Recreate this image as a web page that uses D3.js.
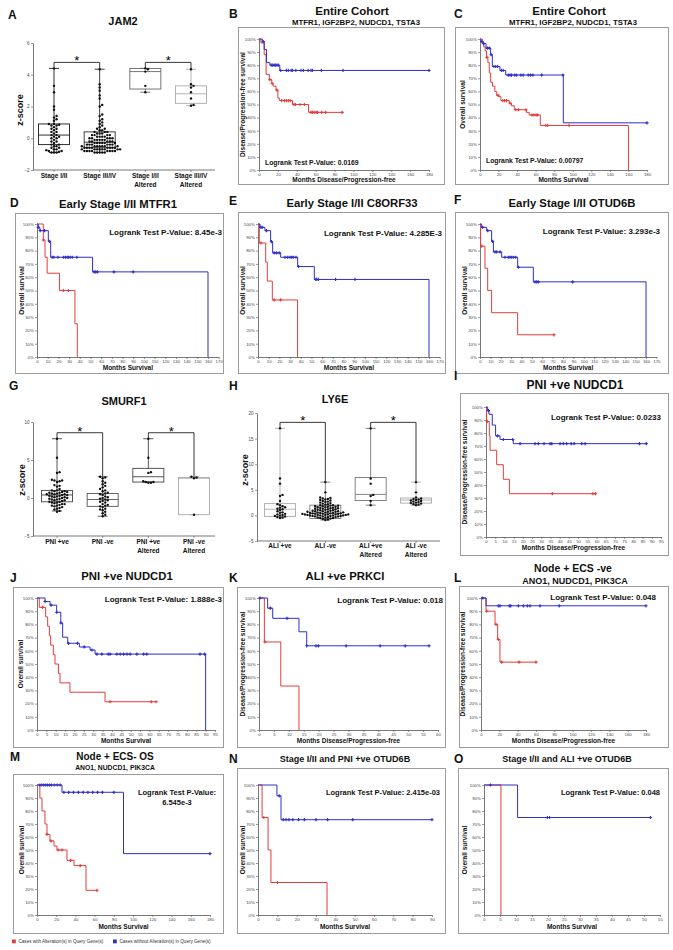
<!DOCTYPE html>
<html><head><meta charset="utf-8">
<script src="https://cdnjs.cloudflare.com/ajax/libs/d3/7.8.5/d3.min.js"></script>
<style>body{margin:0;background:#fff}svg{display:block;font-family:"Liberation Sans",Arial,Helvetica,sans-serif}</style>
</head><body><svg id="c" width="673" height="950"></svg>
<script>
// ---------------- DATA: box plots ----------------
const jamCats=["Stage I/II","Stage III/IV","Stage I/II\nAltered","Stage III/IV\nAltered"];
const jamTicks=[-2,0,2,4,6];
const jamStageI=[4.4,3.3,2.9,2.0,1.8,1.4,1.3,1.2,1.1,0.9,0.9,0.85,0.8,0.8,0.7,0.6,0.6,0.5,0.4,0.4,0.3,0.2,0.2,0.1,0.1,0.0,0.0,-0.1,-0.2,-0.2,-0.3,-0.4,-0.4,-0.5,-0.5,-0.6,-0.6,-0.7,-0.7,-0.75,-0.8,-0.8,-0.85,-0.9,-0.9,-0.9];
const jamStageIII=[4.35,3.4,3.2,3.0,2.7,2.5,2.1,2.0,1.5,1.4,1.2,1.1,1.0,0.9,0.8,0.7,0.6,0.6,0.5,0.5,0.4,0.4,0.4,0.3,0.3,0.3,0.2,0.2,0.2,0.2,0.1,0.1,0.1,0.1,0.0,0.0,0.0,0.0,0.0,-0.1,-0.1,-0.1,-0.1,-0.1,-0.2,-0.2,-0.2,-0.2,-0.2,-0.3,-0.3,-0.3,-0.3,-0.3,-0.3,-0.4,-0.4,-0.4,-0.4,-0.4,-0.4,-0.5,-0.5,-0.5,-0.5,-0.5,-0.5,-0.5,-0.6,-0.6,-0.6,-0.6,-0.6,-0.6,-0.6,-0.6,-0.7,-0.7,-0.7,-0.7,-0.7,-0.7,-0.7,-0.7,-0.8,-0.8,-0.8,-0.8,-0.8,-0.8,-0.8,-0.8,-0.9,-0.9,-0.9,-0.9,-0.9];
const jamAltI=[4.4,4.35,4.2,3.3,2.9];
const jamAltIII=[4.35,3.4,3.3,3.2,2.9,2.5,2.1,2.05];
const jamQ1=[-0.4,-0.6,3.1,2.2], jamMed=[0.2,-0.25,4.2,2.8], jamQ3=[0.9,0.4,4.4,3.3], jamLo=[-0.9,-0.9,2.9,2.05], jamHi=[4.4,4.35,4.4,4.35];

const smuCats=["PNI +ve","PNI -ve","PNI +ve\nAltered","PNI -ve\nAltered"];
const smuTicks=[-5,0,5,10];
const smuPos=[7.8,5.3,3.4,3.3,2.4,2.3,2.3,2.2,2.1,1.7,1.6,1.5,1.2,1.0,1.0,0.9,0.9,0.8,0.8,0.7,0.7,0.6,0.6,0.5,0.5,0.5,0.4,0.4,0.3,0.3,0.2,0.2,0.1,0.1,0.0,0.0,-0.1,-0.1,-0.2,-0.2,-0.3,-0.3,-0.4,-0.5,-0.5,-0.6,-0.6,-0.7,-0.8,-0.8,-0.9,-1.0,-1.0,-1.1,-1.2,-1.3,-1.4,-1.5,-1.7,-1.8];
const smuNeg=[2.8,2.7,2.6,2.2,2.0,1.8,1.6,1.4,1.2,1.0,0.9,0.7,0.6,0.5,0.4,0.2,0.1,0.0,-0.1,-0.2,-0.3,-0.4,-0.5,-0.6,-0.8,-0.9,-1.0,-1.1,-1.2,-1.4,-1.5,-1.6,-1.8,-2.0,-2.2,-2.4];
const smuPosAlt=[7.8,5.3,3.4,3.3,2.2,2.1,2.1,2.0,2.0];
const smuNegAlt=[2.8,2.7,2.6,-2.2];
const smuQ1=[-0.5,-1.1,2.1,-2.2], smuMed=[0.4,-0.2,2.8,2.6], smuQ3=[1.0,0.6,3.9,2.7], smuLo=[-1.7,-2.4,2.1,-2.2], smuHi=[7.8,2.8,7.8,2.8];

const lyCats=["ALI +ve","ALI -ve","ALI +ve\nAltered","ALI -ve\nAltered"];
const lyTicks=[-5,0,5,10,15,20];
const lyPos=[17.0,7.2,6.2,4.0,3.8,2.8,2.2,2.0,1.8,1.6,1.5,1.3,1.2,1.0,0.8,0.6,0.5,0.3,0.2,0.1,0.0,-0.1,-0.2,-0.3,-0.4,-0.5];
const lyNeg=[6.5,4.5,3.5,3.4,3.3,3.2,3.1,3.0,2.9,2.8,2.7,2.6,2.5,2.4,2.3,2.2,2.1,2.0,2.0,1.9,1.9,1.8,1.8,1.7,1.7,1.6,1.6,1.5,1.5,1.4,1.4,1.3,1.3,1.2,1.2,1.1,1.1,1.0,1.0,0.9,0.9,0.8,0.8,0.8,0.7,0.7,0.7,0.6,0.6,0.6,0.5,0.5,0.5,0.4,0.4,0.4,0.3,0.3,0.3,0.3,0.2,0.2,0.2,0.2,0.1,0.1,0.1,0.1,0.0,0.0,0.0,0.0,-0.1,-0.1,-0.1,-0.2,-0.2,-0.2,-0.3,-0.3,-0.4,-0.4,-0.5,-0.5,-0.6,-0.7,-0.8,-0.9];
const lyPosAlt=[17.0,7.2,6.2,4.0,3.8,2.8,2.0];
const lyNegAlt=[6.5,4.5,3.5,3.3,3.2,3.1,3.0,2.9,2.8,2.7,2.6,2.5,2.4,2.3,2.2,2.1,2.0];
const lyQ1=[-0.2,-0.6,2.9,2.4], lyMed=[1.2,0.4,4.1,3.0], lyQ3=[2.3,2.0,7.4,3.4], lyLo=[-0.5,-0.9,2.0,2.0], lyHi=[17,6.5,17,6.5];

// ---------------- DATA: Kaplan-Meier (T = event months, S = survival %, C = censored months) ----------------
const bBlueT=[0,3.5,5.5,8,11.5,22], bBlueS=[100,98,92,82,80,76], bBlueEnd=180;
const bBlueC=[4.5,13,14.5,16,17.5,19,20.5,23,29,31,34,35.5,39,44.5,47,52,55,56.5,66,89,180];
const bRedT=[0,2,5.5,7.5,11,13.5,15,18,20,21.5,35.5,52.5], bRedS=[100,97,88,73,69,66,64,61,55,53,50,44], bRedEnd=88;
const bRedC=[11.5,14,19,24,27,29,31,33,37,38.5,43.5,48,55,56.5,58.5,60.5,62,66.5,70.5,88];

const cBlueT=[0,1,3.5,6.5,11.5,13.3,21.5,27.7,89.8], cBlueS=[100,98,96.5,93,88,79,76,72.5,36], cBlueEnd=180;
const cBlueC=[2,4,8,10,12,15,17,19,23,25,30.5,32.5,34,37.5,39.5,44,46.5,52,54.5,57,66.5,89.5,180];
const cRedT=[0,2.5,4,5.5,7,8.5,10,11.5,13.5,16,18,20,22.5,31.5,34,37,50,53,65,160], cRedS=[100,97,94,91,86,82,74,67,64,60,57,56,53,51,49,46,44,42,34,0], cRedEnd=160;
const cRedC=[7.5,19.5,24.5,26.5,28.5,32.5,38.5,41.5,49.5,56,58,60.5,62,71,73,96];

const dBlueT=[0,1.2,2.7,10.6,12.8,52,160], dBlueS=[100,97.5,95,87,75,64,0], dBlueEnd=160;
const dBlueC=[1.2,3,7,11.6,14.3,15.8,19.6,24.9,26.7,28.3,29.5,31.1,33,37.3,53.4,54.9,56.5,72,90];
const dRedT=[0,5.9,7.5,9.5,21,35.5,37.7], dRedS=[100,88,75,63,50,25,0], dRedEnd=37.7;
const dRedC=[5.9,24.6,29.3];

const eBlueT=[0,1.9,6.5,11.8,13.7,21.2,37.1,52.7,160], eBlueS=[100,97.5,95,86.7,78.3,75,68,58.3,0], eBlueEnd=160;
const eBlueC=[2.7,3.9,7.9,12.6,15.1,17.3,19.8,25.3,27.8,30,31.5,33,35.5,38,54,55,56.5,72.6,90.7];
const eRedT=[0,1.2,7.2,8.7,13.4,37], eRedS=[100,85.7,71.4,57.1,42.9,0], eRedEnd=37;
const eRedC=[2.7,15.2,21.2];

const fBlueT=[0,1.6,6.4,11.2,12.9,20.9,36.3,51.4,160], fBlueS=[100,97.5,95,87,79,75,67.5,56.5,0], fBlueEnd=160;
const fBlueC=[2.6,7.4,12.2,14.5,16.1,19.3,24.1,27.3,28.9,30.5,32.1,34.4,37,53,54.6,56.2,89.3];
const fRedT=[0,0.6,4.8,7.4,11.2,36.3], fRedS=[100,83.3,66.7,50,33.3,16.7], fRedEnd=71.3;
const fRedC=[1.6,71.3];

const iBlueT=[0,0.9,1.6,3.4,5.2,7.6,14.8], iBlueS=[100,97.2,94.4,86.1,77.8,75,71.8], iBlueEnd=87;
const iBlueC=[1.3,6.3,9.4,14.5,18.5,26.6,28.4,31.5,34.8,35.7,40.2,42,43.8,46.2,47.8,52,53.8,83.3,87];
const iRedT=[0,0.3,1.8,2.2,5.8,9.4,12.7], iRedS=[100,88.9,77.8,66.7,55.6,44.4,33.3], iRedEnd=59.5;
const iRedC=[0.7,36,58,59.5];

const jBlueT=[0,4.3,7,10.5,12.7,13.7,16.4,22.6,28.3,31,90], jBlueS=[100,97.3,94.6,89.2,81.1,70.3,65.7,62.9,60.6,57.5,0], jBlueEnd=90;
const jBlueC=[4.3,7.5,10.5,12.7,16.8,21.6,25.2,29.3,32,34.6,38,39,42.6,44.4,46.2,48,49.7,53.3,56.9,58.6,87,89.5];
const jRedT=[0,1.2,4.6,5.7,6.6,7.3,8.7,9.6,11.4,12.3,17.6,36.3], jRedS=[100,92.9,85.7,78.6,71.4,64.3,57.1,50,42.9,35.7,28.6,21.4], jRedEnd=63.6;
const jRedC=[3,39,61,63.6];

const kBlueT=[0,2.9,4.6,13.4,16], kBlueS=[100,92.3,84.6,74.4,63.8], kBlueEnd=57;
const kBlueC=[0.3,3.8,9.4,16,19.1,19.9,29.2,40.6,49,57];
const kRedT=[0,1.8,7.3,13.4], kRedS=[100,66.7,33.3,0], kRedEnd=13.4;
const kRedC=[2];

const lBlueT=[0,5.5], lBlueS=[100,94.1], lBlueEnd=180;
const lBlueC=[1.8,18.9,20.7,30.9,32.4,40.7,46.2,50.5,53.5,64.4,85.4,180];
const lRedT=[0,5.5,15.3,18.2,20.7], lRedS=[100,90,80,68.6,51.4], lRedEnd=60;
const lRedC=[6.2,16.4,18.9,22.5,41.5,60];

const mBlueT=[0,26,90], mBlueS=[100,94.4,47.2], mBlueEnd=180;
const mBlueC=[3,5,7,9,11,13,15,18,21,24,28,33,38,43,48,53,58,63,68,80,180];
const mRedT=[0,3,5.2,8.3,10.4,13.5,17.7,20.8,31.2,38.5,51], mRedS=[100,90,80,70,62,57,53,50,42,38,19], mRedEnd=62.4;
const mRedC=[10.4,14.5,22,26,35,45,62.4];

const nBlueT=[0,9.8,11.9], nBlueS=[100,91.7,73.3], nBlueEnd=90;
const nBlueC=[11,13,14.5,16,18,21,24,30,36,49,90];
const nRedT=[0,2.1,5.2,6.7,35.7], nRedS=[100,75,50,25,0], nRedEnd=35.7;
const nRedC=[3,10];

const oBlueT=[0,10.5], oBlueS=[100,75], oBlueEnd=52;
const oBlueC=[2,19.8,20.5,52];
const oRedT=[0,5.3], oRedS=[100,0], oRedEnd=5.3;
const oRedC=[];

const legendLabels=["Cases with Alteration(s) in Query Gene(s)","Cases without Alteration(s) in Query Gene(s)"];

// ---------------- DRAWING ----------------
const FONT='"Liberation Sans", Arial, Helvetica, sans-serif';
const RED="#e43c3a", BLUE="#2e2ec8";
const svg=d3.select("#c");

function txt(x,y,s,size,o={}){
  return svg.append("text").attr("x",x).attr("y",y).attr("font-size",size)
    .attr("font-weight",o.w||"bold").attr("text-anchor",o.a||"middle").attr("fill",o.c||"#111")
    .attr("font-family",FONT).text(s);
}
function vtxt(x,cy,s,size){
  return svg.append("text").attr("transform",`translate(${x},${cy}) rotate(-90)`).attr("text-anchor","middle")
    .attr("dy","0.35em").attr("font-size",size).attr("font-weight","bold").attr("fill","#111").attr("font-family",FONT).text(s);
}
function styleAxis(sel,fs){
  sel.attr("font-family",null).attr("font-size",null);
  sel.select(".domain").attr("stroke","#555").attr("stroke-width",0.8);
  sel.selectAll(".tick line").attr("stroke","#555").attr("stroke-width",0.6);
  sel.selectAll("text").attr("font-size",fs).attr("font-family",FONT).attr("fill","#444");
}

function km(o){
  const g=svg.append("g");
  g.append("rect").attr("x",o.fx+0.5).attr("y",o.fy+0.5).attr("width",o.fw).attr("height",o.fh)
    .attr("fill","none").attr("stroke","#9c9c9c").attr("stroke-width",1);
  const x=d3.scaleLinear().domain([0,o.xMax]).range([o.x0,o.x1]);
  const y=d3.scaleLinear().domain([0,100]).range([o.y1,o.y0]);
  const ya=g.append("g").attr("transform",`translate(${o.x0},0)`)
    .call(d3.axisLeft(y).tickValues(d3.range(0,101,10)).tickFormat(d=>d+"%").tickSize(2).tickSizeOuter(0).tickPadding(1.2));
  styleAxis(ya,4.3);
  const xa=g.append("g").attr("transform",`translate(0,${o.y1})`)
    .call(d3.axisBottom(x).tickValues(d3.range(0,o.xMax+0.01,o.xStep)).tickSize(2).tickSizeOuter(0).tickPadding(1));
  styleAxis(xa,4.3);
  const line=d3.line().x(d=>x(d[0])).y(d=>y(d[1])).curve(d3.curveStepAfter);
  [[o.red,RED],[o.blue,BLUE]].forEach(([s,col])=>{
    const pts=s.T.map((t,i)=>[t,s.S[i]]); pts.push([s.end,s.S[s.S.length-1]]);
    g.append("path").attr("d",line(pts)).attr("fill","none").attr("stroke",col).attr("stroke-width",1);
    s.C.forEach(c=>{
      let v=s.S[0]; s.T.forEach((t,i)=>{ if(t<=c) v=s.S[i]; });
      const cx=x(c), cy=y(v);
      g.append("path").attr("d",`M${cx-1.6},${cy}h3.2M${cx},${cy-1.6}v3.2`).attr("stroke",col).attr("stroke-width",1.1);
    });
  });
  vtxt(o.ylx,(o.y0+o.y1)/2,o.ylabel,6.5);
  txt((o.x0+o.x1)/2,o.xly,o.xlabel,6.5);
  if(o.pval2){
    txt(o.px,o.py,o.pval,o.pfs||8); txt(o.px,o.py+10,o.pval2,o.pfs||8);
  } else txt(o.px,o.py,o.pval,o.pfs||8,{a:o.pa||"end"});
  txt(o.tx,o.ty,o.title,o.tfs||11.3);
  if(o.sub) txt(o.sx,o.sy,o.sub,o.sfs||7.8);
  txt(o.lx,o.ly,o.letter,12,{a:"start"});
}

function swarm(vals,y,r){
  const pts=vals.map(v=>({v,y:y(v)})).sort((a,b)=>b.y-a.y);
  const placed=[]; const step=2*r+0.15;
  pts.forEach(p=>{
    for(let k=0;k<80;k++){
      const off=(k===0)?0:(k%2?1:-1)*Math.ceil(k/2)*step;
      let ok=true;
      for(const q of placed){const dx=q.dx-off, dy=q.y-p.y; if(dx*dx+dy*dy<(2*r)*(2*r)-0.01){ok=false;break;}}
      if(ok){p.dx=off;break;}
    }
    placed.push(p);
  });
  return pts;
}

function boxPanel(o){
  const g=svg.append("g");
  const y=d3.scaleLinear().domain(o.dom).range([o.yb,o.yt]);
  const x=d3.scalePoint().domain(o.cats).range([o.xa,o.xb]);
  const ya=g.append("g").attr("transform",`translate(${o.ax},0)`)
    .call(d3.axisLeft(y).tickValues(o.ticks).tickSize(2).tickSizeOuter(0).tickPadding(1.5));
  styleAxis(ya,4.5);
  g.append("line").attr("x1",o.ax).attr("x2",o.axEnd).attr("y1",o.yb).attr("y2",o.yb).attr("stroke","#555").attr("stroke-width",0.8);
  o.cats.forEach((c,i)=>{
    const cx=x(c), col=o.cols[i], hw=o.bw/2;
    g.append("line").attr("x1",cx).attr("x2",cx).attr("y1",o.yb).attr("y2",o.yb+2).attr("stroke","#555").attr("stroke-width",0.6);
    g.append("line").attr("x1",cx).attr("x2",cx).attr("y1",y(o.hi[i])).attr("y2",y(o.q3[i])).attr("stroke",col).attr("stroke-width",0.9);
    g.append("line").attr("x1",cx).attr("x2",cx).attr("y1",y(o.q1[i])).attr("y2",y(o.lo[i])).attr("stroke",col).attr("stroke-width",0.9);
    [o.hi[i],o.lo[i]].forEach(v=>g.append("line").attr("x1",cx-5).attr("x2",cx+5).attr("y1",y(v)).attr("y2",y(v)).attr("stroke",col).attr("stroke-width",0.9));
    g.append("rect").attr("x",cx-hw).attr("y",y(o.q3[i])).attr("width",o.bw).attr("height",y(o.q1[i])-y(o.q3[i]))
      .attr("fill","none").attr("stroke",col).attr("stroke-width",0.9);
    g.append("line").attr("x1",cx-hw).attr("x2",cx+hw).attr("y1",y(o.med[i])).attr("y2",y(o.med[i])).attr("stroke",col).attr("stroke-width",0.9);
    swarm(o.groups[i],y,1.2).forEach(p=>{
      g.append("circle").attr("cx",cx+p.dx).attr("cy",p.y).attr("r",1.2).attr("fill","#111");
    });
    c.split("\n").forEach((s,j)=>txt(cx,o.lab1+j*8.5,s,6.5));
  });
  // significance brackets
  [[0,1],[2,3]].forEach(([a,b])=>{
    const ya1=y(o.hi[a]), yb1=y(o.hi[b]), top=Math.min(ya1,yb1)-6;
    const xa1=x(o.cats[a]), xb1=x(o.cats[b]);
    g.append("path").attr("d",`M${xa1},${ya1}V${top}H${xb1}V${yb1}`).attr("fill","none").attr("stroke","#222").attr("stroke-width",0.9);
    txt((xa1+xb1)/2,top+3,"*",13,{w:"normal",c:"#000"});
  });
  txt(o.tx,o.ty,o.title,11);
  vtxt(o.zx,o.zy,"z-score",9);
  txt(o.lx,o.ly,o.letter,12,{a:"start"});
}

// ---- Box panels ----
boxPanel({letter:"A",lx:8,ly:19,title:"JAM2",tx:123,ty:25,zx:20,zy:110,
  dom:[-2,6],yb:170,yt:43,ax:33,axEnd:215,ticks:jamTicks,cats:jamCats,xa:54,xb:191,bw:31,lab1:178,
  cols:["#1a1a1a","#2a2a2a","#666","#aaa"],groups:[jamStageI,jamStageIII,jamAltI,jamAltIII],
  q1:jamQ1,med:jamMed,q3:jamQ3,lo:jamLo,hi:jamHi});
boxPanel({letter:"G",lx:9,ly:390,title:"SMURF1",tx:124,ty:405,zx:22,zy:480,
  dom:[-5,10],yb:536,yt:422,ax:33,axEnd:215,ticks:smuTicks,cats:smuCats,xa:57,xb:194,bw:31,lab1:544,
  cols:["#444","#555","#444","#aaa"],groups:[smuPos,smuNeg,smuPosAlt,smuNegAlt],
  q1:smuQ1,med:smuMed,q3:smuQ3,lo:smuLo,hi:smuHi});
boxPanel({letter:"H",lx:229,ly:390,title:"LY6E",tx:335,ty:403,zx:245,zy:470,
  dom:[-5,20],yb:541,yt:413,ax:257,axEnd:440,ticks:lyTicks,cats:lyCats,xa:280,xb:416,bw:31,lab1:548,
  cols:["#aaa","#777","#777","#aaa"],groups:[lyPos,lyNeg,lyPosAlt,lyNegAlt],
  q1:lyQ1,med:lyMed,q3:lyQ3,lo:lyLo,hi:lyHi});

// ---- KM panels ----
const DFS="Disease/Progression-free survival", OS="Overall survival", MDF="Months Disease/Progression-free", MS="Months Survival";
km({letter:"B",lx:229,ly:18,title:"Entire Cohort",tx:352,ty:15,tfs:11.5,sub:"MTFR1, IGF2BP2, NUDCD1, TSTA3",sx:356,sy:24.5,
  fx:238,fy:27,fw:206,fh:157,x0:259,x1:429,xMax:180,xStep:20,y0:39,y1:170,ylabel:DFS,ylx:243,xlabel:MDF,xly:182,
  pval:"Logrank Test P-Value: 0.0169",px:265,py:165,pa:"start",pfs:6.8,
  blue:{T:bBlueT,S:bBlueS,end:bBlueEnd,C:bBlueC},red:{T:bRedT,S:bRedS,end:bRedEnd,C:bRedC}});
km({letter:"C",lx:454,ly:18,title:"Entire Cohort",tx:569,ty:15,tfs:11.5,sub:"MTFR1, IGF2BP2, NUDCD1, TSTA3",sx:573,sy:24.5,
  fx:455,fy:27,fw:213,fh:157,x0:480,x1:647,xMax:180,xStep:20,y0:39,y1:170,ylabel:OS,ylx:463,xlabel:MS,xly:182,
  pval:"Logrank Test P-Value: 0.00797",px:486,py:163,pa:"start",pfs:6.8,
  blue:{T:cBlueT,S:cBlueS,end:cBlueEnd,C:cBlueC},red:{T:cRedT,S:cRedS,end:cRedEnd,C:cRedC}});
km({letter:"D",lx:10,ly:207,title:"Early Stage I/II MTFR1",tx:118,ty:208,
  fx:15,fy:213,fw:208,fh:160,x0:37,x1:218.7,xMax:170,xStep:10,y0:224,y1:357,ylabel:OS,ylx:22,xlabel:MS,xly:369.5,
  pval:"Logrank Test P-Value: 8.45e-3",px:222,py:235,
  blue:{T:dBlueT,S:dBlueS,end:dBlueEnd,C:dBlueC},red:{T:dRedT,S:dRedS,end:dRedEnd,C:dRedC}});
km({letter:"E",lx:229,ly:205,title:"Early Stage I/II C8ORF33",tx:352,ty:207,
  fx:238,fy:212,fw:207,fh:161,x0:258,x1:439.7,xMax:170,xStep:10,y0:224,y1:357,ylabel:OS,ylx:243,xlabel:MS,xly:369.5,
  pval:"Logrank Test P-Value: 4.285E-3",px:442,py:236,
  blue:{T:eBlueT,S:eBlueS,end:eBlueEnd,C:eBlueC},red:{T:eRedT,S:eRedS,end:eRedEnd,C:eRedC}});
km({letter:"F",lx:454,ly:204,title:"Early Stage I/II OTUD6B",tx:572,ty:207,
  fx:455,fy:212,fw:213,fh:161,x0:480,x1:656.4,xMax:170,xStep:10,y0:224,y1:357,ylabel:OS,ylx:465,xlabel:MS,xly:369.5,
  pval:"Logrank Test P-Value: 3.293e-3",px:660,py:234,
  blue:{T:fBlueT,S:fBlueS,end:fBlueEnd,C:fBlueC},red:{T:fRedT,S:fRedS,end:fRedEnd,C:fRedC}});
km({letter:"I",lx:454,ly:380,title:"PNI +ve NUDCD1",tx:575,ty:389,tfs:12,
  fx:460,fy:393,fw:208,fh:162,x0:486,x1:661,xMax:95,xStep:5,y0:407,y1:537,ylabel:DFS,ylx:465,xlabel:MDF,xly:550,
  pval:"Logrank Test P-Value: 0.0233",px:661,py:420,
  blue:{T:iBlueT,S:iBlueS,end:iBlueEnd,C:iBlueC},red:{T:iRedT,S:iRedS,end:iRedEnd,C:iRedC}});
km({letter:"J",lx:10,ly:582,title:"PNI +ve NUDCD1",tx:127,ty:580,
  fx:13,fy:587,fw:210,fh:160,x0:37,x1:215,xMax:95,xStep:5,y0:598,y1:730,ylabel:OS,ylx:21,xlabel:MS,xly:743,
  pval:"Logrank Test P-Value: 1.888e-3",px:222,py:602,
  blue:{T:jBlueT,S:jBlueS,end:jBlueEnd,C:jBlueC},red:{T:jRedT,S:jRedS,end:jRedEnd,C:jRedC}});
km({letter:"K",lx:229,ly:582,title:"ALI +ve PRKCI",tx:345,ty:580,
  fx:237,fy:587,fw:208,fh:160,x0:259,x1:438,xMax:60,xStep:5,y0:598,y1:730,ylabel:DFS,ylx:243,xlabel:MDF,xly:743,
  pval:"Logrank Test P-Value: 0.018",px:443,py:603,
  blue:{T:kBlueT,S:kBlueS,end:kBlueEnd,C:kBlueC},red:{T:kRedT,S:kRedS,end:kRedEnd,C:kRedC}});
km({letter:"L",lx:454,ly:582,title:"Node + ECS -ve",tx:573,ty:572,tfs:10.5,sub:"ANO1, NUDCD1, PIK3CA",sx:575,sy:584,sfs:9,
  fx:459,fy:586,fw:209,fh:161,x0:481,x1:646,xMax:180,xStep:20,y0:598,y1:730,ylabel:DFS,ylx:463,xlabel:MDF,xly:743,
  pval:"Logrank Test P-Value: 0.048",px:656,py:600,
  blue:{T:lBlueT,S:lBlueS,end:lBlueEnd,C:lBlueC},red:{T:lRedT,S:lRedS,end:lRedEnd,C:lRedC}});
km({letter:"M",lx:10,ly:761,title:"Node + ECS- OS",tx:115,ty:760,tfs:10,sub:"ANO1, NUDCD1, PIK3CA",sx:115,sy:770,sfs:6.8,
  fx:13,fy:774,fw:210,fh:159,x0:37,x1:210,xMax:180,xStep:20,y0:785,y1:915,ylabel:OS,ylx:22,xlabel:MS,xly:929,
  pval:"Logrank Test P-Value:",pval2:"6.545e-3",px:177,py:795,pfs:7.5,
  blue:{T:mBlueT,S:mBlueS,end:mBlueEnd,C:mBlueC},red:{T:mRedT,S:mRedS,end:mRedEnd,C:mRedC}});
km({letter:"N",lx:229,ly:763,title:"Stage I/II and PNI +ve OTUD6B",tx:345,ty:762,tfs:9,
  fx:237,fy:768,fw:208,fh:165,x0:258,x1:432,xMax:90,xStep:10,y0:785,y1:915,ylabel:OS,ylx:243,xlabel:MS,xly:929,
  pval:"Logrank Test P-Value: 2.415e-03",px:440,py:795,pfs:7.5,
  blue:{T:nBlueT,S:nBlueS,end:nBlueEnd,C:nBlueC},red:{T:nRedT,S:nRedS,end:nRedEnd,C:nRedC}});
km({letter:"O",lx:454,ly:763,title:"Stage I/II and ALI +ve OTUD6B",tx:567,ty:762,tfs:9,
  fx:458,fy:768,fw:210,fh:165,x0:484,x1:660,xMax:55,xStep:5,y0:785,y1:915,ylabel:OS,ylx:465,xlabel:MS,xly:929,
  pval:"Logrank Test P-Value: 0.048",px:660,py:795,pfs:7.5,
  blue:{T:oBlueT,S:oBlueS,end:oBlueEnd,C:oBlueC},red:{T:oRedT,S:oRedS,end:oRedEnd,C:oRedC}});

// ---- Legend ----
[[RED,12,legendLabels[0]],[BLUE,113,legendLabels[1]]].forEach(([col,lx,lab])=>{
  svg.append("rect").attr("x",lx).attr("y",939.5).attr("width",3.8).attr("height",3.8).attr("fill",col);
  txt(lx+6.5,943,lab,4.6,{a:"start",w:"normal",c:"#333"});
});
</script></body></html>
